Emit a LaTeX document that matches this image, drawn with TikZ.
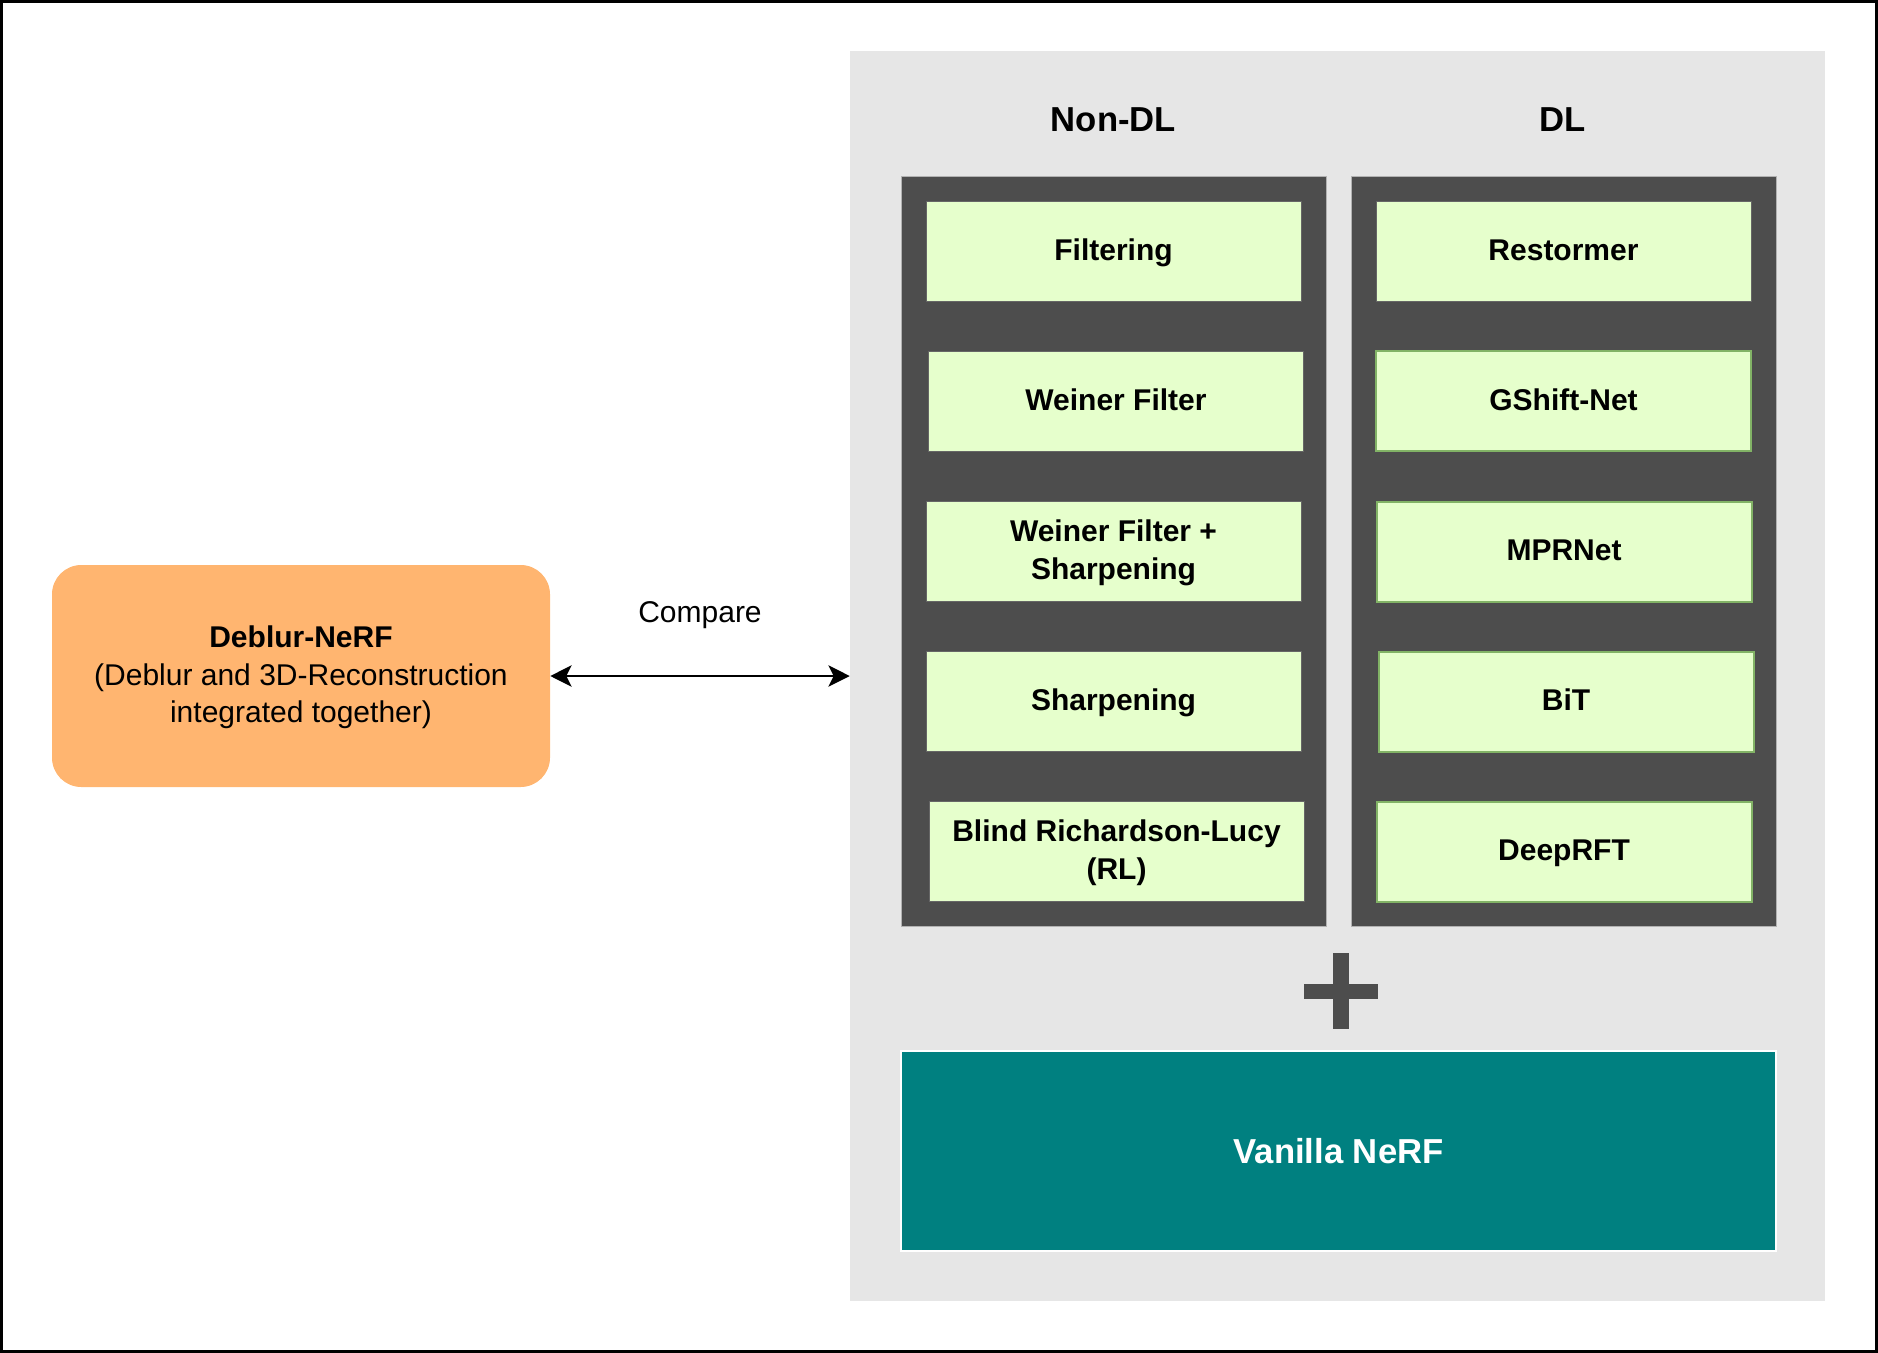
\documentclass[tikz,border=0pt]{standalone}
\usepackage{fontspec}
\setmainfont{Liberation Sans}
\usepackage{tikz}
\usetikzlibrary{arrows.meta}
\definecolor{panelgray}{HTML}{E6E6E6}
\definecolor{colgray}{HTML}{4D4D4D}
\definecolor{boxgreen}{HTML}{E6FFCC}
\definecolor{edgegreen}{HTML}{82B366}
\definecolor{deblurorange}{HTML}{FFB570}
\definecolor{nerfteal}{HTML}{008080}
\tikzstyle{arrow} = [line width=1.5pt,<->,>={Stealth[length=16pt,width=16pt,inset=4pt]}]
\tikzstyle{method} = [draw=black!60,line width=0.75pt,fill=boxgreen,minimum width=281.25pt,minimum height=75pt,inner sep=0pt,align=center,text height=16pt,text depth=2.5pt,font=\fontsize{22.5pt}{28.5pt}\selectfont\bfseries]
\tikzstyle{twoline} = [text height=44.5pt,text depth=2.5pt]
\tikzstyle{dlmethod} = [method,draw=edgegreen,line width=1.5pt]
\tikzstyle{column} = [fill=colgray,draw=black!30,line width=0.75pt,minimum width=318.75pt,minimum height=562.5pt,inner sep=0pt]
\tikzstyle{header} = [text height=18.6pt,text depth=2.9pt,font=\fontsize{26pt}{31pt}\selectfont\bfseries]

\begin{document}
\begin{tikzpicture}[x=0.75pt,y=-0.75pt]

\useasboundingbox (0,0) rectangle (1878,1353);
\draw [line width=2.25pt] (1.5,1.5) rectangle (1876.5,1351.5);

\node (panel) [fill=panelgray,minimum width=731.25pt,minimum height=937.5pt,inner sep=0pt] at (1337.5,676) {};
\node (nondl) [column] at (1113.5,551) {};
\node (dl) [column] at (1563.5,551) {};
\node (nondlhead) [header] at (1113.5,121.5) {Non-DL};
\node (dlhead) [header] at (1562.5,121.5) {DL};

\node (filt) [method] at (1113.5,251) {Filtering};
\node (wein) [method] at (1116,401) {Weiner Filter};
\node (weinsharp) [method,twoline] at (1113.5,551.5) {Weiner Filter +\\Sharpening};
\node (sharp) [method] at (1113.5,701.5) {Sharpening};
\node (brl) [method,twoline] at (1116.5,851.5) {Blind Richardson-Lucy\\(RL)};

\node (restormer) [method] at (1563.5,251) {Restormer};
\node (gshift) [dlmethod] at (1563.5,401) {GShift-Net};
\node (mprnet) [dlmethod] at (1564,551.5) {MPRNet};
\node (bit) [dlmethod] at (1566,701.5) {BiT};
\node (deeprft) [dlmethod] at (1564,851.5) {DeepRFT};

\fill [colgray] (1333,953) rectangle (1349,1029);
\fill [colgray] (1304,984) rectangle (1378,999);

\node (vanilla) [draw=white,line width=1.5pt,fill=nerfteal,text=white,minimum width=656.25pt,minimum height=150pt,font=\fontsize{26pt}{31pt}\selectfont\bfseries] at (1338.5,1151) {Vanilla NeRF};

\node (deblur) [fill=deblurorange,rounded corners=22pt,minimum width=373.5pt,minimum height=166.5pt,align=center,text height=72pt,text depth=2.5pt,font=\fontsize{22.5pt}{28pt}\selectfont] at (301,676) {\textbf{Deblur-NeRF}\\(Deblur and 3D-Reconstruction\\integrated together)};

\draw [arrow] (deblur) -- node[yshift=47pt,text height=16pt,text depth=2.5pt,font=\fontsize{22.5pt}{27pt}\selectfont] {Compare} (panel);

\end{tikzpicture}
\end{document}
